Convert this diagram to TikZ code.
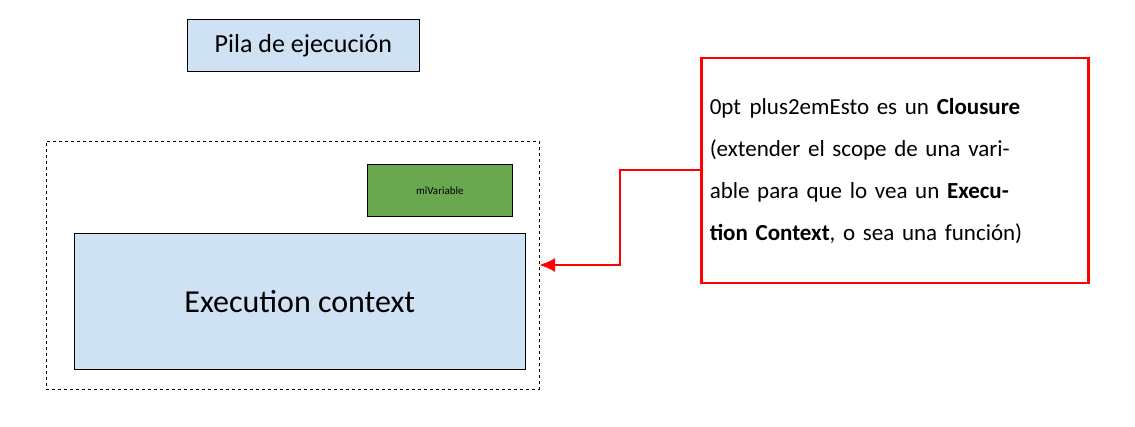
\documentclass[tikz,border=0pt]{standalone}
\usepackage{fontspec}
\setmainfont{Carlito}
\definecolor{lb}{HTML}{CFE2F3}
\definecolor{gr}{HTML}{6AA84F}
\usetikzlibrary{arrows.meta}
\begin{document}
\begin{tikzpicture}[x=1pt,y=-1pt,
  box/.style={draw=black,line width=0.7pt,anchor=north west,inner sep=0pt}]
\useasboundingbox (0,0) rectangle (1135,427);
\node[box,fill=lb,minimum width=232pt,minimum height=52pt,font=\fontsize{26}{28}\selectfont] (pila) at (187,19) {Pila de ejecución};
\node[box,dashed,minimum width=493pt,minimum height=248pt] (outer) at (46,141) {};
\node[box,fill=gr,minimum width=145pt,minimum height=52pt,font=\fontsize{11}{12}\selectfont] (var) at (367,164) {miVariable};
\node[box,fill=lb,minimum width=451pt,minimum height=136pt,font=\fontsize{32}{34}\selectfont] (ec) at (74,233) {Execution context};
\node[box,draw=red,line width=2.5pt,minimum width=387pt,minimum height=225pt,text width=370pt,align=center,font=\fontsize{23}{42}\selectfont\hyphenpenalty=10000\exhyphenpenalty=10000] (note) at (700,57)
 {Esto es un \textbf{Clousure} (extender el scope de una variable para que lo vea un \textbf{Execution Context}, o sea una función)};
\coordinate (t) at (539,265);
\draw[red,line width=2.5pt,-{Latex[length=16pt,width=14pt]}] (note.west |- 0,170) -- (620,170) -- (620,265) -- (t);
\end{tikzpicture}
\end{document}
